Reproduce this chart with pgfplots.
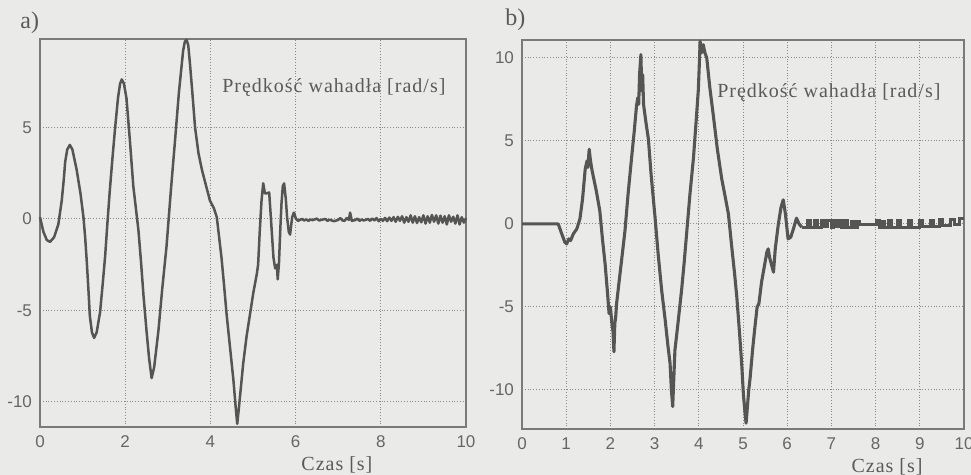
\documentclass[border=0pt]{standalone}
\usepackage{fontspec}
\setmainfont{Liberation Serif}
\setsansfont{Liberation Sans}
\usepackage{pgfplots}
\pgfplotsset{compat=1.18}
\definecolor{paper}{HTML}{EAEAE8}
\definecolor{curve}{HTML}{555555}
\definecolor{frame}{HTML}{7A7A7A}
\definecolor{gridc}{HTML}{8A8A8A}
\definecolor{lbl}{HTML}{666666}
\definecolor{txt}{HTML}{5A5A5A}

\pgfplotsset{
  panel/.style={
    scale only axis, anchor=south west, clip=false,
    xmin=0, xmax=10,
    grid=major, major grid style={densely dotted, gridc, line width=0.5pt},
    axis line style={frame, line width=0.6pt},
    major tick length=0pt,
    /pgf/number format/assume math mode=true,
    tick label style={font=\sffamily\fontsize{8.5}{10}\selectfont, text=lbl},
    xticklabel style={yshift=-1pt},
    yticklabel style={xshift=-0.5pt},
  }
}
\newcommand{\lab}{\fontsize{10}{11}\selectfont\addfontfeatures{LetterSpace=5}\color{txt}}

\begin{document}
\begin{tikzpicture}
\fill[paper] (0,0) rectangle (485.5pt,237.5pt);
\useasboundingbox (0,0) rectangle (485.5pt,237.5pt);

\node[anchor=west, inner sep=0pt] at (10pt,226pt) {\fontsize{12}{13}\selectfont\color{txt}a)};
\node[anchor=west, inner sep=0pt] at (252.5pt,227.5pt) {\fontsize{12}{13}\selectfont\color{txt}b)};

% panel a
\begin{axis}[panel, at={(20pt,24pt)}, width=213pt, height=194pt,
  ymin=-11.37, ymax=9.84, xtick={0,2,...,10}, ytick={-10,-5,0,5}]
\addplot[curve, line width=1.25pt, line join=round] coordinates {
(0,0.1) (0.08,-0.7) (0.16,-1.15) (0.235,-1.25) (0.33,-1.0) (0.43,-0.3) (0.51,1.0) (0.56,2.2)
(0.59,3.1) (0.64,3.8) (0.70,4.05) (0.76,3.8) (0.86,2.7) (0.95,1.4) (1.02,0.1) (1.06,-1.0)
(1.10,-2.4) (1.14,-4.0) (1.17,-5.3) (1.22,-6.2) (1.27,-6.5) (1.33,-6.2) (1.41,-5.1) (1.47,-3.6)
(1.53,-2.0) (1.58,-0.3) (1.64,1.6) (1.70,3.3) (1.76,4.9) (1.83,6.6) (1.88,7.4) (1.92,7.63)
(1.97,7.4) (2.03,6.6) (2.11,4.3) (2.19,1.8) (2.31,-0.6) (2.37,-2.3) (2.43,-4.2) (2.50,-6.1)
(2.56,-7.6) (2.62,-8.7) (2.68,-8.1) (2.78,-6.1) (2.87,-3.8) (2.97,-1.5) (3.07,1.5) (3.17,4.3)
(3.26,6.9) (3.36,9.2) (3.40,9.7) (3.44,9.8) (3.48,9.5) (3.52,8.5) (3.58,6.8) (3.64,5.0)
(3.72,3.6) (3.80,2.7) (3.90,1.8) (3.99,1.0) (4.08,0.6) (4.15,0.1) (4.20,-0.9) (4.26,-2.1)
(4.32,-3.6) (4.38,-5.2) (4.46,-7.0) (4.54,-8.8) (4.59,-10.2) (4.63,-11.2) (4.67,-10.3)
(4.72,-9.1) (4.77,-7.9) (4.85,-6.4) (4.93,-5.2) (5.01,-4.0) (5.09,-3.0) (5.12,-2.5) (5.16,-0.6)
(5.20,1.0) (5.24,1.95) (5.28,1.4) (5.32,1.4) (5.38,1.45) (5.43,-0.3) (5.48,-2.1) (5.52,-2.7)
(5.56,-2.5) (5.58,-3.3) (5.61,-2.4) (5.64,-0.6) (5.67,0.9) (5.70,1.8) (5.73,1.95) (5.77,1.1)
(5.80,0.1) (5.84,-0.7) (5.87,-0.85) (5.92,0.1) (5.96,0.35) (6.01,0.0) (6.06,-0.1) (6.10,-0.05)
(6.15,0.0) (6.20,-0.08) (6.25,-0.02) (6.30,-0.1) (6.35,-0.03) (6.40,-0.06) (6.50,0.02)
(6.55,-0.08) (6.60,-0.05) (6.70,0.0) (6.75,-0.1) (6.80,-0.04) (6.90,-0.12) (7.00,-0.05)
(7.05,0.05) (7.10,-0.08) (7.15,-0.1) (7.20,0.05) (7.25,-0.05) (7.28,0.35) (7.32,-0.1)
(7.40,-0.06) (7.45,0.02) (7.50,-0.1) (7.55,-0.03) (7.60,-0.08) (7.70,0.0) (7.75,-0.1)
(7.80,0.02) (7.85,-0.08) (7.90,0.05) (7.95,-0.12) (8.00,0.0) (8.05,-0.1) (8.10,0.06)
(8.15,-0.12) (8.20,0.08) (8.25,-0.1) (8.30,0.1) (8.35,-0.15) (8.40,0.12) (8.45,-0.1)
(8.50,0.15) (8.55,-0.2) (8.60,0.1) (8.65,-0.15) (8.70,0.2) (8.75,-0.2) (8.80,0.15) (8.85,-0.22)
(8.90,0.1) (8.95,-0.18) (9.00,0.2) (9.05,-0.25) (9.10,0.15) (9.15,-0.2) (9.20,0.22) (9.25,-0.15)
(9.30,0.2) (9.35,-0.25) (9.40,0.18) (9.45,-0.2) (9.50,0.15) (9.55,-0.3) (9.60,0.2) (9.65,-0.15)
(9.70,0.12) (9.75,-0.25) (9.80,0.2) (9.85,-0.3) (9.90,0.1) (9.95,-0.2) (10,0.05)
};
\node[anchor=west, inner sep=0pt] at (rel axis cs:0.427,0.876) {\lab Prędkość wahadła [rad/s]};
\node[inner sep=0pt] at (rel axis cs:0.697,-0.098) {\lab Czas [s]};
\end{axis}

% panel b
\begin{axis}[panel, at={(261pt,23pt)}, width=221pt, height=194.5pt,
  ymin=-12.35, ymax=11.08, xtick={0,1,...,10}, ytick={-10,-5,0,5,10}]
\addplot[curve, line width=1.55pt, line join=round] coordinates {
(0,0) (0.82,0) (0.90,-0.6) (0.97,-1.1) (1.01,-1.2) (1.06,-0.9) (1.10,-1.0) (1.16,-0.6)
(1.24,-0.3) (1.31,0.3) (1.37,1.5) (1.43,3.3) (1.47,3.8) (1.49,3.4) (1.52,4.5) (1.55,3.8)
(1.58,3.3) (1.61,2.9) (1.68,2.0) (1.76,0.8) (1.82,-0.9) (1.88,-2.4) (1.93,-4.0) (1.97,-5.4)
(2.00,-5.0) (2.03,-5.9) (2.06,-6.5) (2.08,-7.7) (2.10,-6.0) (2.12,-5.6) (2.14,-4.8) (2.20,-3.4)
(2.27,-1.8) (2.33,-0.4) (2.40,1.8) (2.48,4.0) (2.54,5.6) (2.59,7.1) (2.62,7.6) (2.64,7.2)
(2.66,9.0) (2.69,10.2) (2.71,8.0) (2.73,9.0) (2.75,7.2) (2.80,6.2) (2.86,5.1) (2.92,3.0)
(3.01,0.4) (3.08,-1.8) (3.16,-4.0) (3.24,-5.8) (3.30,-7.3) (3.35,-8.4) (3.38,-10.0) (3.41,-11.0)
(3.43,-9.6) (3.46,-7.6) (3.52,-6.2) (3.61,-4.0) (3.67,-2.3) (3.73,-0.4) (3.80,1.8) (3.88,4.0)
(3.94,6.2) (3.99,8.1) (4.01,9.5) (4.03,11.0) (4.06,10.3) (4.10,10.8) (4.14,10.3) (4.18,10.0)
(4.25,8.2) (4.33,6.5) (4.42,4.5) (4.52,2.7) (4.60,1.6) (4.67,0.6) (4.75,-1.5) (4.81,-3.0)
(4.86,-4.4) (4.92,-6.5) (4.97,-8.4) (5.01,-10.3) (5.05,-11.5) (5.07,-12.0) (5.10,-11.0)
(5.13,-10.0) (5.16,-9.3) (5.22,-7.5) (5.27,-6.2) (5.32,-5.0) (5.36,-4.8) (5.42,-3.5) (5.50,-2.3)
(5.54,-1.7) (5.57,-1.5) (5.60,-2.0) (5.65,-2.5) (5.69,-2.9) (5.73,-1.5) (5.80,0.0) (5.86,1.0)
(5.91,1.45) (5.96,0.6) (6.02,-0.9) (6.08,-0.8) (6.14,-0.3) (6.21,0.35) (6.27,0.0) (6.33,-0.2)
};
\addplot[curve, line width=1.55pt, const plot] coordinates {
(6.33,-0.2) (6.45,0.2) (6.52,-0.2) (6.62,0.2) (6.68,-0.2) (6.78,0.2) (6.84,-0.15)
(6.90,0.2) (7.00,-0.2) (7.05,0.2) (7.10,-0.15) (7.15,0.2) (7.22,-0.2) (7.30,0.2)
(7.36,-0.2) (7.45,0.15) (7.50,-0.2) (7.58,0.15) (7.64,-0.05) (8.03,0.2) (8.08,-0.2) (8.15,0.15)
(8.20,-0.2) (8.30,0.2) (8.36,-0.2) (8.50,0.2) (8.57,-0.2) (8.75,0.2) (8.82,-0.2)
(9.00,0.2) (9.07,-0.15) (9.25,0.2) (9.32,-0.15) (9.45,0.25) (9.52,-0.1) (9.70,0.25) (9.78,-0.05)
(9.90,0.35) (10,0.35)
};
\node[anchor=west, inner sep=0pt] at (rel axis cs:0.441,0.866) {\lab Prędkość wahadła [rad/s]};
\node[inner sep=0pt] at (rel axis cs:0.826,-0.098) {\lab Czas [s]};
\end{axis}
\end{tikzpicture}
\end{document}
